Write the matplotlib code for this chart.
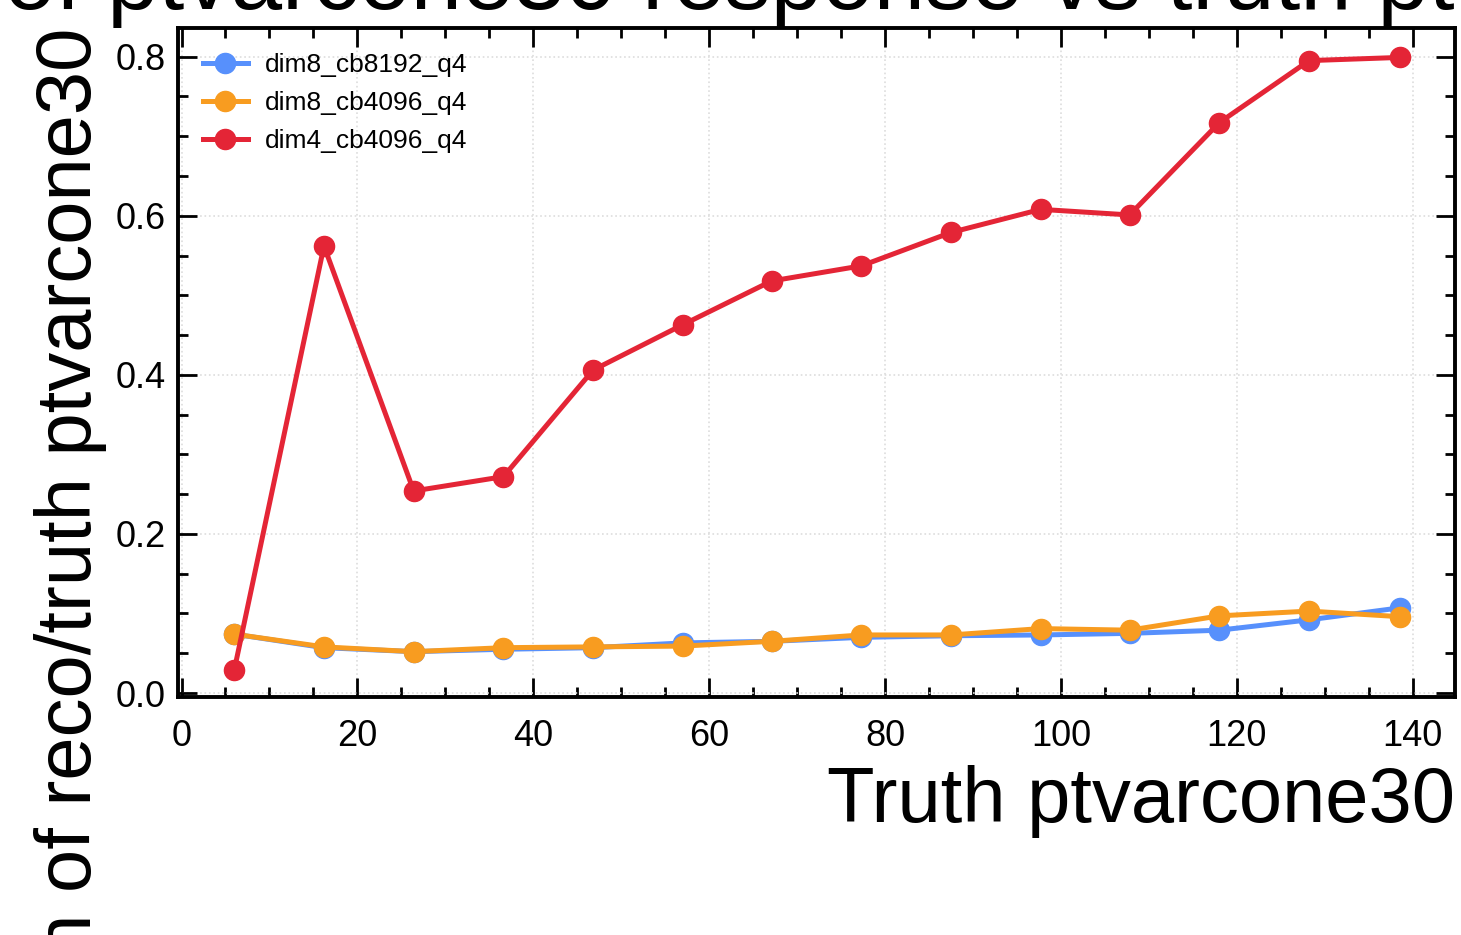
import numpy as np
import matplotlib
matplotlib.use('Agg')
from matplotlib import pyplot as plt
from matplotlib.ticker import MultipleLocator

# bin centres in truth ptvarcone30
truth_pt = [6.0, 16.2, 26.4, 36.6, 46.8, 57.0, 67.1, 77.3, 87.5, 97.7, 107.8, 118.0, 128.2, 138.5]

mean_dim8_cb8192 = [0.074, 0.057, 0.052, 0.055, 0.057, 0.063, 0.065, 0.070, 0.072, 0.073, 0.075, 0.079, 0.092, 0.107]
mean_dim8_cb4096 = [0.074, 0.058, 0.052, 0.057, 0.058, 0.059, 0.065, 0.073, 0.073, 0.081, 0.079, 0.097, 0.103, 0.096]
mean_dim4_cb4096 = [0.029, 0.562, 0.254, 0.272, 0.406, 0.463, 0.518, 0.537, 0.579, 0.608, 0.601, 0.717, 0.795, 0.799]

labels = ['dim8_cb8192_q4', 'dim8_cb4096_q4', 'dim4_cb4096_q4']
colors = ['#5790fc', '#f89c20', '#e42536']

plt.rcParams['font.family'] = ['Liberation Sans', 'DejaVu Sans']

fig = plt.figure(figsize=(14.61, 9.35), dpi=100)
ax = fig.add_axes([178 / 1461, 1 - 697 / 935, 1277 / 1461, 669 / 935])

for y, lab, c in zip([mean_dim8_cb8192, mean_dim8_cb4096, mean_dim4_cb4096], labels, colors):
    ax.plot(truth_pt, y, marker='o', markersize=14.5, linewidth=3.6, color=c, label=lab)

ax.set_xlim(-0.4, 144.8)
ax.set_ylim(-0.005, 0.836)
ax.xaxis.set_major_locator(MultipleLocator(20))
ax.xaxis.set_minor_locator(MultipleLocator(5))
ax.yaxis.set_major_locator(MultipleLocator(0.2))
ax.yaxis.set_minor_locator(MultipleLocator(0.05))

ax.tick_params(which='both', direction='in', top=True, right=True, labelsize=26)
ax.tick_params(which='major', length=14, width=2, pad=16)
ax.tick_params(which='minor', length=7, width=2)
ax.tick_params(axis='y', which='major', pad=9)
for s in ax.spines.values():
    s.set_linewidth(2.8)

ax.grid(True, which='major', linestyle=':', color='#dddddd', linewidth=1.2)

ax.set_xlabel('Truth ptvarcone30', fontsize=56, loc='right', labelpad=8)
ax.set_ylabel('Mean of reco/truth ptvarcone30', fontsize=56, loc='top', labelpad=6)
ax.set_title('Mean of ptvarcone30 response vs truth ptvarcone30', fontsize=66.7, pad=14)

ax.legend(loc='upper left', frameon=False, fontsize=19, handlelength=1.7,
          handletextpad=0.65, labelspacing=0.53, borderaxespad=0.55)

fig.savefig('out.png', dpi=100)
